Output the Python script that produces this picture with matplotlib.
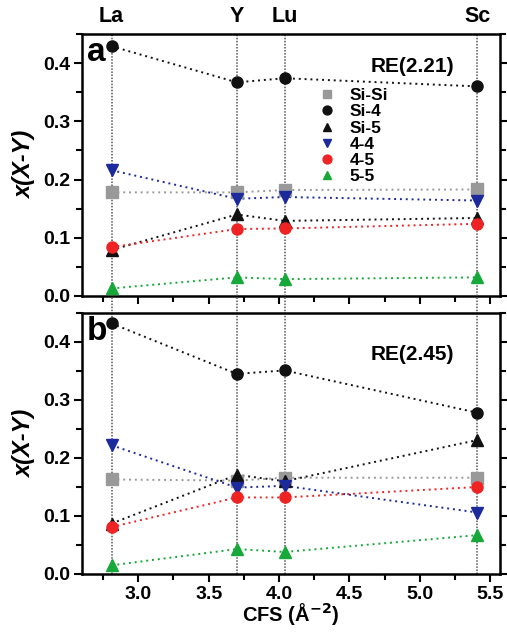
import matplotlib
matplotlib.use("Agg")
import matplotlib.pyplot as plt
from matplotlib.ticker import MultipleLocator

plt.rcParams['font.family'] = ['Liberation Sans', 'DejaVu Sans']
plt.rcParams['font.weight'] = 'bold'
plt.rcParams['mathtext.default'] = 'bf'

elements = ["La", "Y", "Lu", "Sc"]
cfs = [2.81, 3.70, 4.04, 5.41]

series_names = ["Si-Si", "Si-4", "Si-5", "4-4", "4-5", "5-5"]
colors = ["#999999", "#111111", "#111111", "#1c2a9c", "#ee2424", "#17a83a"]
markers = ["s", "o", "^", "v", "o", "^"]

# Panel a: RE(2.21)
a_si_si = [0.178, 0.178, 0.182, 0.183]
a_si_4 = [0.429, 0.367, 0.374, 0.360]
a_si_5 = [0.079, 0.140, 0.129, 0.134]
a_4_4 = [0.216, 0.167, 0.170, 0.164]
a_4_5 = [0.084, 0.115, 0.116, 0.124]
a_5_5 = [0.013, 0.032, 0.029, 0.032]

# Panel b: RE(2.45)
b_si_si = [0.163, 0.161, 0.166, 0.166]
b_si_4 = [0.432, 0.345, 0.351, 0.278]
b_si_5 = [0.087, 0.171, 0.160, 0.231]
b_4_4 = [0.222, 0.149, 0.152, 0.106]
b_4_5 = [0.081, 0.132, 0.132, 0.150]
b_5_5 = [0.015, 0.043, 0.038, 0.067]

panel_a = [a_si_si, a_si_4, a_si_5, a_4_4, a_4_5, a_5_5]
panel_b = [b_si_si, b_si_4, b_si_5, b_4_4, b_4_5, b_5_5]

fig = plt.figure(figsize=(5.07, 6.33), dpi=100)
ax1 = fig.add_axes([82/507, 1-296/633, 418/507, 262/633])
ax2 = fig.add_axes([82/507, 1-574/633, 418/507, 261/633])

for ax, data, letter, title in [(ax1, panel_a, "a", "RE(2.21)"), (ax2, panel_b, "b", "RE(2.45)")]:
    for xv in cfs:
        ax.axvline(xv, color="#555555", ls=(0, (1, 1)), lw=1.1, zorder=1,
                   ymin=0, ymax=1 if ax is ax1 else 1.07, clip_on=False)
    for name, vals, c, m in zip(series_names, data, colors, markers):
        ax.plot(cfs, vals, ls=(0, (1, 2)), color=c, lw=1.4, zorder=2)
        ax.plot(cfs, vals, ls="none", marker=m, color=c, ms=8, mec=c,
                label=name, zorder=3)
    ax.set_xlim(2.6, 5.57)
    ax.set_ylim(0, 0.45)
    ax.yaxis.set_major_locator(MultipleLocator(0.1))
    ax.yaxis.set_minor_locator(MultipleLocator(0.05))
    ax.xaxis.set_major_locator(MultipleLocator(0.5))
    ax.xaxis.set_minor_locator(MultipleLocator(0.25))
    ax.tick_params(which="both", direction="out", right=True, top=False,
                   labelright=False, width=1.5)
    ax.tick_params(which="major", length=6, labelsize=14, pad=2.5)
    ax.tick_params(which="minor", length=4)
    ax.yaxis.set_major_formatter(matplotlib.ticker.FormatStrFormatter('%.1f'))
    for s in ax.spines.values():
        s.set_linewidth(1.8)
    ax.set_ylabel("x(X-Y)", fontsize=17, fontweight="bold", fontstyle="italic", labelpad=5)
    ax.text(0.012, 0.99, letter, transform=ax.transAxes, fontsize=24,
            fontweight="bold", va="top", ha="left")
    ax.text(0.79, 0.875 if ax is ax1 else 0.84, title, transform=ax.transAxes,
            fontsize=15, fontweight="bold", ha="center", va="center")

ax1.tick_params(labelbottom=False)
ax2.xaxis.set_major_formatter(matplotlib.ticker.FormatStrFormatter('%.1f'))
ax2.set_xlabel("CFS (Å$^{-2}$)", fontsize=14.5, fontweight="bold")
ax2.xaxis.set_label_coords(0.5, -0.104)

leg = ax1.legend(loc="upper left", bbox_to_anchor=(0.54, 0.82), frameon=False,
                 fontsize=12.5, handletextpad=0.6, labelspacing=0.06,
                 borderaxespad=0, handlelength=1.4, markerscale=0.8)

for name, xv in zip(elements, cfs):
    ax1.text(xv, 1.025, name, transform=ax1.get_xaxis_transform(), ha="center",
             va="bottom", fontsize=15.5, fontweight="bold")

fig.savefig("out.png", dpi=100)
